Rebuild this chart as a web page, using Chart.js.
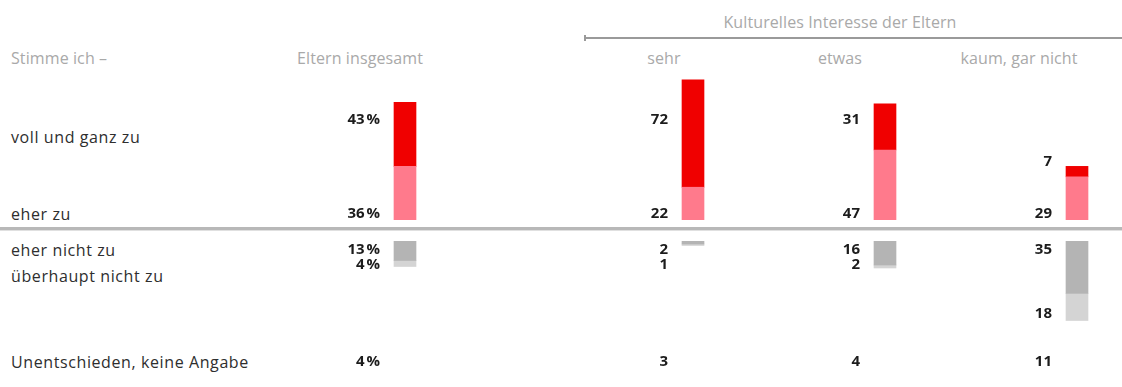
<!DOCTYPE html>
<html lang="de">
<head>
<meta charset="utf-8">
<script src="https://cdn.jsdelivr.net/npm/chart.js@4"></script>
<style>
  html, body { margin: 0; padding: 0; background: #fff; }
  body { width: 1122px; height: 387px; position: relative; overflow: hidden;
         font-family: 'Open Sans', sans-serif; }
  .t { position: absolute; white-space: nowrap; transform: translateY(-50%); }
  .c { transform: translate(-50%, -50%); }
  .head { color: #a9a9a9; font-size: 16px; letter-spacing: 0.1px; }
  .row  { color: #2e2e2e; font-size: 16px; letter-spacing: 0.6px; left: 11px; }
  canvas { position: absolute; }
  #topline { position: absolute; left: 586px; top: 37px; width: 536px; height: 0;
             border-top: 2px solid #9a9a9a; }
  #topline::before { content: ''; position: absolute; left: -2px; top: -4px; width: 2px; height: 6px; background: #9a9a9a; }
  #sep { position: absolute; left: 0; top: 227px; width: 1122px; height: 3px; background: #b8b8b8;
         border-bottom: 1px solid #e0e0e0; }
</style>
</head>
<body>
<div class="t head c" style="left:840px;top:22px;">Kulturelles Interesse der Eltern</div>
<div id="topline"></div>
<div class="t head" style="left:11px;top:58px;">Stimme ich –</div>
<div class="t head c" style="left:360px;top:58px;">Eltern insgesamt</div>
<div class="t head c" style="left:664px;top:58px;">sehr</div>
<div class="t head c" style="left:840px;top:58px;">etwas</div>
<div class="t head c" style="left:1019px;top:58px;">kaum, gar nicht</div>

<div class="t row" style="top:137px;">voll und ganz zu</div>
<div class="t row" style="top:214px;">eher zu</div>
<div class="t row" style="top:250px;">eher nicht zu</div>
<div class="t row" style="top:276px;">überhaupt nicht zu</div>
<div class="t row" style="top:362px;">Unentschieden, keine Angabe</div>

<div id="sep"></div>

<canvas id="elt-top"  width="200" height="149" style="left:305px;top:71px;"></canvas>
<canvas id="kult-top" width="576" height="149" style="left:597px;top:71px;"></canvas>
<canvas id="elt-bot"  width="200" height="140" style="left:305px;top:241px;"></canvas>
<canvas id="kult-bot" width="576" height="140" style="left:597px;top:241px;"></canvas>

<script>
'use strict';

/* Daten */
const groups          = ['Eltern insgesamt', 'sehr', 'etwas', 'kaum, gar nicht'];
const vollUndGanz     = [43, 72, 31, 7];
const eherZu          = [36, 22, 47, 29];
const eherNicht       = [13, 2, 16, 35];
const ueberhauptNicht = [4, 1, 2, 18];
const unentschieden   = [4, 3, 4, 11];

const COLORS = {
  voll   : '#f00000',
  eher   : '#ff7a8c',
  nicht  : '#b4b4b4',
  garNich: '#d4d4d4',
};

const LABEL_FONT = "bold 15px 'Open Sans', sans-serif";

/* ── Werte links neben den Balken ── */
const valueLabels = {
  id: 'valueLabels',
  afterDatasetsDraw(chart, args, opts) {
    const ctx = chart.ctx;
    ctx.save();
    ctx.font = LABEL_FONT;
    ctx.fillStyle = '#1c1c1c';
    ctx.textAlign = 'right';
    ctx.textBaseline = 'middle';
    const m0 = chart.getDatasetMeta(0).data;
    const m1 = chart.getDatasetMeta(1).data;
    const d0 = chart.data.datasets[0].data;
    const d1 = chart.data.datasets[1].data;
    m0.forEach((bar, i) => {
      const x = bar.x - bar.width / 2 - 14;
      if (opts.upper) {
        ctx.fillText(d1[i] + opts.suffix, x, Math.max(49, m1[i].y - 5));
        ctx.fillText(d0[i] + opts.suffix, x, chart.chartArea.bottom - 6);
      } else {
        ctx.fillText(d0[i] + opts.suffix, x, 9);
        ctx.fillText(d1[i] + opts.suffix, x, Math.max(24, m1[i].y - 7));
        ctx.fillText(opts.undecided[i] + opts.suffix, x, 121);
      }
    });
    ctx.restore();
  },
};

function drawPanel(id, labels, first, second, colors, upper, suffix, undecided) {
  const canvas = document.getElementById(id);
  new Chart(canvas, {
    type: 'bar',
    data: {
      labels,
      datasets: [
        { data: first,  backgroundColor: colors[0], barThickness: 22, stack: 's' },
        { data: second, backgroundColor: colors[1], barThickness: 22, stack: 's' },
      ],
    },
    options: {
      responsive: false, animation: false,
      layout: { padding: upper ? 0 : { bottom: 50 } },
      plugins: {
        legend: { display: false },
        tooltip: { enabled: false },
        valueLabels: { upper, suffix, undecided },
      },
      scales: {
        x: { display: false, stacked: true },
        y: { display: false, stacked: true, min: 0, max: upper ? 100 : 60, reverse: !upper },
      },
    },
    plugins: [valueLabels],
  });
}

drawPanel('elt-top', groups.slice(0, 1), eherZu.slice(0, 1), vollUndGanz.slice(0, 1),
  [COLORS.eher, COLORS.voll], true, '\u202f%');
drawPanel('kult-top', groups.slice(1), eherZu.slice(1), vollUndGanz.slice(1),
  [COLORS.eher, COLORS.voll], true, '');
drawPanel('elt-bot', groups.slice(0, 1), eherNicht.slice(0, 1), ueberhauptNicht.slice(0, 1),
  [COLORS.nicht, COLORS.garNich], false, '\u202f%', unentschieden.slice(0, 1));
drawPanel('kult-bot', groups.slice(1), eherNicht.slice(1), ueberhauptNicht.slice(1),
  [COLORS.nicht, COLORS.garNich], false, '', unentschieden.slice(1));
</script>
</body>
</html>
